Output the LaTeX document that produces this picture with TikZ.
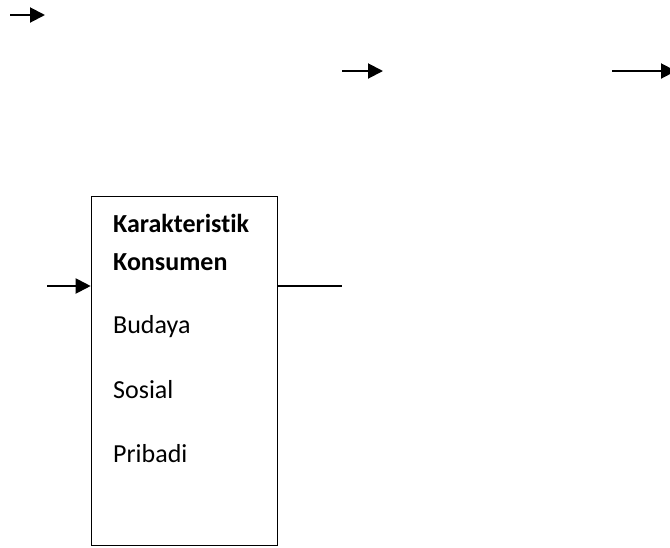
\documentclass[tikz,border=0pt]{standalone}
\usepackage{fontspec}
\setmainfont[Ligatures=NoCommon]{Carlito}
\usetikzlibrary{arrows.meta}
\begin{document}
\begin{tikzpicture}[x=1pt,y=-1pt,
  arr/.style={line width=2pt,-{Triangle[length=15pt,width=15pt]}},
  boxline/.style={line width=1.6pt},
  lbl/.style={anchor=base west,inner sep=0pt,font=\fontsize{26}{30}\selectfont}]
\useasboundingbox (0,0) rectangle (670,547);
\clip (0,0) rectangle (670,547);
% top arrows
\coordinate (a1s) at (10,15);
\coordinate (a1e) at (45,15);
\coordinate (a2s) at (342,71);
\coordinate (a2e) at (383,71);
\coordinate (a3s) at (612,71);
\coordinate (a3e) at (676,71);
\draw[arr] (a1s) -- (a1e);
\draw[arr] (a2s) -- (a2e);
\draw[arr] (a3s) -- (a3e);
% box
\node[boxline,draw,minimum width=186pt,minimum height=349pt,inner sep=0pt] (box) at (184.5,371) {};
\node[lbl] (t1) at (113,232) {\bfseries Karakteristik};
\node[lbl] (t2) at (113,270) {\bfseries Konsumen};
\node[lbl] (t3) at (113,333) {Budaya};
\node[lbl] (t4) at (113,398) {Sosial};
\node[lbl] (t5) at (113,462) {Pribadi};
% side connectors
\coordinate (la) at (47,286);
\coordinate (rl) at (342,286);
\draw[arr] (la) -- (la -| box.west);
\draw[boxline] (rl -| box.east) -- (rl);
\end{tikzpicture}
\end{document}
